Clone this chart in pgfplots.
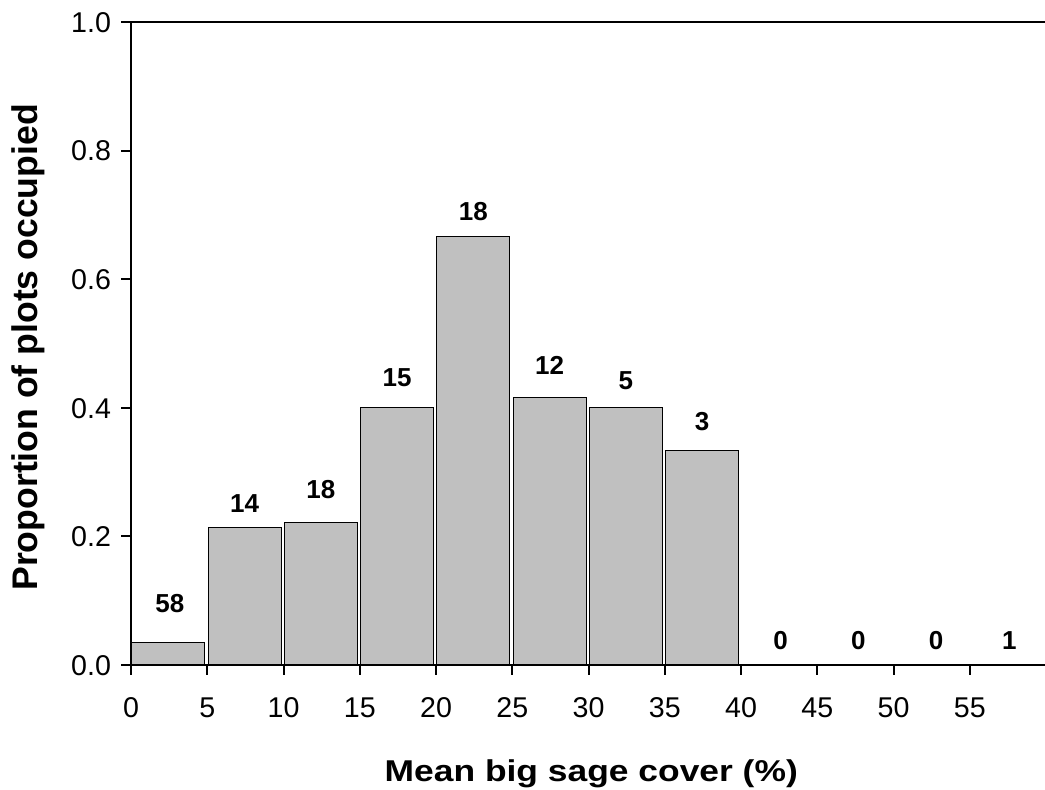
\documentclass[border=0pt]{standalone}
\usepackage{fontspec}
\setmainfont{Liberation Sans}
\usepackage{pgfplots}
\pgfplotsset{compat=1.18}
\definecolor{bargray}{RGB}{192,192,192}
\begin{document}
\begin{tikzpicture}
\begin{axis}[
  scale only axis,
  width=457.5pt, height=321.5pt,
  xmin=0, xmax=60, ymin=0, ymax=1,
  axis lines=left,
  axis line style={line width=1pt, -},
  xtick={0,5,...,55},
  ytick={0,0.2,...,1.0},
  tick align=outside,
  tick style={line width=1pt, black},
  major tick length=5pt,
  yticklabel style={/pgf/number format/fixed, /pgf/number format/fixed zerofill, /pgf/number format/precision=1, xshift=-1.5pt, text height=10.3pt, text depth=0pt},
  xticklabel style={yshift=-7.5pt, text height=10.3pt, text depth=0pt},
  /pgf/number format/assume math mode=true,
  ticklabel style={font=\fontsize{14.3}{16}\selectfont},
  xlabel={Mean big sage cover (\%)},
  ylabel={Proportion of plots occupied},
  xlabel style={font=\fontsize{17.7}{20}\selectfont\bfseries, yscale=0.85, at={(axis description cs:0.503,-0.1695)}, anchor=center},
  ylabel style={font=\fontsize{17.8}{20}\selectfont\bfseries, at={(axis description cs:-0.112,0.494)}, anchor=center, rotate=0},
  clip=false,
]
\addplot[ybar, bar width=4.8, fill=bargray, draw=black, line width=0.5pt] coordinates {
  (2.45,0.0345) (7.45,0.2143) (12.45,0.2222) (17.45,0.4) (22.45,0.6667) (27.45,0.4167) (32.45,0.4) (37.45,0.3333)
};
\addplot[only marks, mark=none, point meta=explicit symbolic,
  nodes near coords, nodes near coords align={center},
  every node near coord/.append style={font=\fontsize{13}{15}\selectfont\bfseries, anchor=center, text height=9.4pt, text depth=0pt}]
  table[meta=label] {
x y label
2.55 0.0964 58
7.45 0.252 14
12.45 0.274 18
17.45 0.448 15
22.45 0.706 18
27.45 0.467 12
32.45 0.443 5
37.45 0.379 3
42.6 0.039 0
47.7 0.039 0
52.8 0.039 0
57.6 0.039 1
};
\draw[line width=1pt] (rel axis cs:0,1) -- (rel axis cs:1,1);
\coordinate (bl) at (rel axis cs:-0.1432,-0.1944);
\coordinate (tr) at (rel axis cs:0.9989,1.0342);
\end{axis}
\pgfresetboundingbox
\useasboundingbox (bl) rectangle (tr);
\end{tikzpicture}
\end{document}
